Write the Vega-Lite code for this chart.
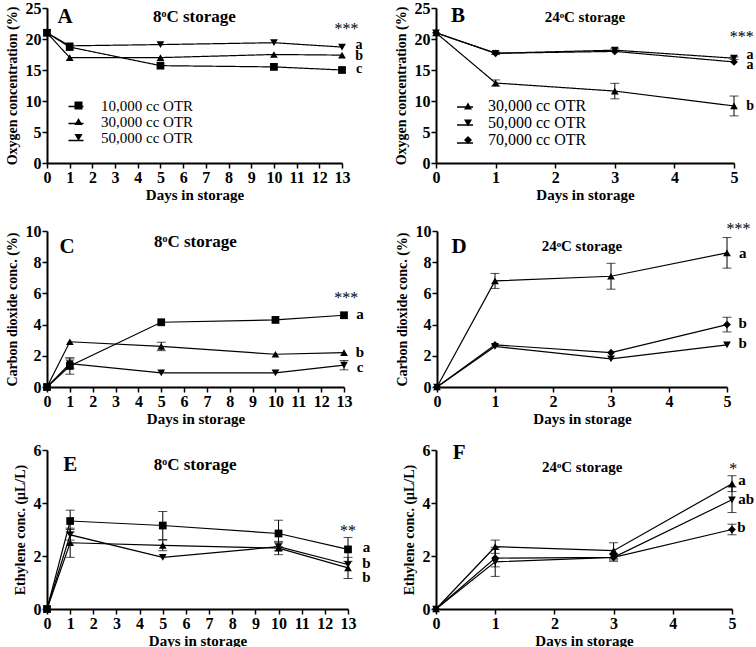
{
  "$schema": "https://vega.github.io/schema/vega-lite/v6.json",
  "padding": {"left": 4, "top": 0, "right": 0, "bottom": 0},
  "background": "white",
  "config": {
    "font": "Liberation Serif",
    "view": {"stroke": null},
    "axis": {"grid": false, "domainColor": "black", "domainWidth": 2, "tickColor": "black", "tickWidth": 1.5, "tickSize": 5, "labelColor": "black", "labelFontSize": 16, "labelFontWeight": "bold", "labelFont": "Liberation Serif", "titleColor": "black", "titleFontSize": 15, "titleFontWeight": "bold", "titleFont": "Liberation Serif", "labelPadding": 1, "labelFlush": false, "labelAngle": 0},
    "axisX": {"titlePadding": 2},
    "axisY": {"titleFontSize": 14, "titlePadding": 6},
    "text": {"font": "Liberation Serif", "fontWeight": "bold", "color": "black", "align": "center", "baseline": "middle"},
    "legend": {"orient": "none", "title": null, "labelFont": "Liberation Serif", "labelFontSize": 15, "labelFontWeight": "normal", "labelColor": "black", "symbolSize": 64, "symbolFillColor": "black", "symbolStrokeColor": "black", "symbolStrokeWidth": 1, "labelOffset": 15, "rowPadding": 0, "padding": 0}
  },
  "datasets": {
    "series": [
      {"panel": "A", "series": "10,000 cc OTR", "day": 0, "value": 21, "err": 0},
      {"panel": "A", "series": "10,000 cc OTR", "day": 1, "value": 18.7, "err": 0},
      {"panel": "A", "series": "10,000 cc OTR", "day": 5, "value": 15.7, "err": 0},
      {"panel": "A", "series": "10,000 cc OTR", "day": 10, "value": 15.5, "err": 0},
      {"panel": "A", "series": "10,000 cc OTR", "day": 13, "value": 15.0, "err": 0},
      {"panel": "A", "series": "30,000 cc OTR", "day": 0, "value": 21, "err": 0},
      {"panel": "A", "series": "30,000 cc OTR", "day": 1, "value": 17.0, "err": 0},
      {"panel": "A", "series": "30,000 cc OTR", "day": 5, "value": 17.0, "err": 0},
      {"panel": "A", "series": "30,000 cc OTR", "day": 10, "value": 17.5, "err": 0},
      {"panel": "A", "series": "30,000 cc OTR", "day": 13, "value": 17.4, "err": 0},
      {"panel": "A", "series": "50,000 cc OTR", "day": 0, "value": 21, "err": 0},
      {"panel": "A", "series": "50,000 cc OTR", "day": 1, "value": 18.9, "err": 0},
      {"panel": "A", "series": "50,000 cc OTR", "day": 5, "value": 19.1, "err": 0},
      {"panel": "A", "series": "50,000 cc OTR", "day": 10, "value": 19.4, "err": 0},
      {"panel": "A", "series": "50,000 cc OTR", "day": 13, "value": 18.7, "err": 0},

      {"panel": "B", "series": "30,000 cc OTR", "day": 0, "value": 21, "err": 0},
      {"panel": "B", "series": "30,000 cc OTR", "day": 1, "value": 12.9, "err": 0.5},
      {"panel": "B", "series": "30,000 cc OTR", "day": 3, "value": 11.6, "err": 1.25},
      {"panel": "B", "series": "30,000 cc OTR", "day": 5, "value": 9.2, "err": 1.6},
      {"panel": "B", "series": "50,000 cc OTR", "day": 0, "value": 21, "err": 0},
      {"panel": "B", "series": "50,000 cc OTR", "day": 1, "value": 17.7, "err": 0.2},
      {"panel": "B", "series": "50,000 cc OTR", "day": 3, "value": 18.2, "err": 0.2},
      {"panel": "B", "series": "50,000 cc OTR", "day": 5, "value": 16.9, "err": 0.2},
      {"panel": "B", "series": "70,000 cc OTR", "day": 0, "value": 21, "err": 0},
      {"panel": "B", "series": "70,000 cc OTR", "day": 1, "value": 17.7, "err": 0},
      {"panel": "B", "series": "70,000 cc OTR", "day": 3, "value": 18.0, "err": 0},
      {"panel": "B", "series": "70,000 cc OTR", "day": 5, "value": 16.3, "err": 0},

      {"panel": "C", "series": "10,000 cc OTR", "day": 0, "value": 0, "err": 0},
      {"panel": "C", "series": "10,000 cc OTR", "day": 1, "value": 1.35, "err": 0.53},
      {"panel": "C", "series": "10,000 cc OTR", "day": 5, "value": 4.15, "err": 0},
      {"panel": "C", "series": "10,000 cc OTR", "day": 10, "value": 4.3, "err": 0},
      {"panel": "C", "series": "10,000 cc OTR", "day": 13, "value": 4.6, "err": 0},
      {"panel": "C", "series": "30,000 cc OTR", "day": 0, "value": 0, "err": 0},
      {"panel": "C", "series": "30,000 cc OTR", "day": 1, "value": 2.9, "err": 0},
      {"panel": "C", "series": "30,000 cc OTR", "day": 5, "value": 2.6, "err": 0.27},
      {"panel": "C", "series": "30,000 cc OTR", "day": 10, "value": 2.1, "err": 0},
      {"panel": "C", "series": "30,000 cc OTR", "day": 13, "value": 2.2, "err": 0},
      {"panel": "C", "series": "50,000 cc OTR", "day": 0, "value": 0, "err": 0},
      {"panel": "C", "series": "50,000 cc OTR", "day": 1, "value": 1.5, "err": 0.3},
      {"panel": "C", "series": "50,000 cc OTR", "day": 5, "value": 0.9, "err": 0},
      {"panel": "C", "series": "50,000 cc OTR", "day": 10, "value": 0.9, "err": 0},
      {"panel": "C", "series": "50,000 cc OTR", "day": 13, "value": 1.4, "err": 0.3},

      {"panel": "D", "series": "30,000 cc OTR", "day": 0, "value": 0, "err": 0},
      {"panel": "D", "series": "30,000 cc OTR", "day": 1, "value": 6.8, "err": 0.48},
      {"panel": "D", "series": "30,000 cc OTR", "day": 3, "value": 7.1, "err": 0.83},
      {"panel": "D", "series": "30,000 cc OTR", "day": 5, "value": 8.6, "err": 0.98},
      {"panel": "D", "series": "50,000 cc OTR", "day": 0, "value": 0, "err": 0},
      {"panel": "D", "series": "50,000 cc OTR", "day": 1, "value": 2.6, "err": 0},
      {"panel": "D", "series": "50,000 cc OTR", "day": 3, "value": 1.8, "err": 0},
      {"panel": "D", "series": "50,000 cc OTR", "day": 5, "value": 2.7, "err": 0},
      {"panel": "D", "series": "70,000 cc OTR", "day": 0, "value": 0, "err": 0},
      {"panel": "D", "series": "70,000 cc OTR", "day": 1, "value": 2.7, "err": 0},
      {"panel": "D", "series": "70,000 cc OTR", "day": 3, "value": 2.2, "err": 0},
      {"panel": "D", "series": "70,000 cc OTR", "day": 5, "value": 4.0, "err": 0.47},

      {"panel": "E", "series": "10,000 cc OTR", "day": 0, "value": 0, "err": 0},
      {"panel": "E", "series": "10,000 cc OTR", "day": 1, "value": 3.32, "err": 0.41},
      {"panel": "E", "series": "10,000 cc OTR", "day": 5, "value": 3.15, "err": 0.53},
      {"panel": "E", "series": "10,000 cc OTR", "day": 10, "value": 2.85, "err": 0.5},
      {"panel": "E", "series": "10,000 cc OTR", "day": 13, "value": 2.25, "err": 0.45},
      {"panel": "E", "series": "30,000 cc OTR", "day": 0, "value": 0, "err": 0},
      {"panel": "E", "series": "30,000 cc OTR", "day": 1, "value": 2.5, "err": 0.55},
      {"panel": "E", "series": "30,000 cc OTR", "day": 5, "value": 2.4, "err": 0.2},
      {"panel": "E", "series": "30,000 cc OTR", "day": 10, "value": 2.3, "err": 0.25},
      {"panel": "E", "series": "30,000 cc OTR", "day": 13, "value": 1.55, "err": 0.4},
      {"panel": "E", "series": "50,000 cc OTR", "day": 0, "value": 0, "err": 0},
      {"panel": "E", "series": "50,000 cc OTR", "day": 1, "value": 2.8, "err": 0.2},
      {"panel": "E", "series": "50,000 cc OTR", "day": 5, "value": 1.95, "err": 0},
      {"panel": "E", "series": "50,000 cc OTR", "day": 10, "value": 2.35, "err": 0.15},
      {"panel": "E", "series": "50,000 cc OTR", "day": 13, "value": 1.68, "err": 0},

      {"panel": "F", "series": "30,000 cc OTR", "day": 0, "value": 0, "err": 0},
      {"panel": "F", "series": "30,000 cc OTR", "day": 1, "value": 2.35, "err": 0.25},
      {"panel": "F", "series": "30,000 cc OTR", "day": 3, "value": 2.2, "err": 0.3},
      {"panel": "F", "series": "30,000 cc OTR", "day": 5, "value": 4.73, "err": 0.3},
      {"panel": "F", "series": "50,000 cc OTR", "day": 0, "value": 0, "err": 0},
      {"panel": "F", "series": "50,000 cc OTR", "day": 1, "value": 1.78, "err": 0.55},
      {"panel": "F", "series": "50,000 cc OTR", "day": 3, "value": 1.95, "err": 0.15},
      {"panel": "F", "series": "50,000 cc OTR", "day": 5, "value": 4.12, "err": 0.48},
      {"panel": "F", "series": "70,000 cc OTR", "day": 0, "value": 0, "err": 0},
      {"panel": "F", "series": "70,000 cc OTR", "day": 1, "value": 1.92, "err": 0.33},
      {"panel": "F", "series": "70,000 cc OTR", "day": 3, "value": 1.95, "err": 0.1},
      {"panel": "F", "series": "70,000 cc OTR", "day": 5, "value": 3.0, "err": 0.2}
    ],
    "notes": [
      {"panel": "A", "kind": "tag", "text": "A", "day": 0.8, "value": 23.5},
      {"panel": "A", "kind": "title", "text": "8ᵒC storage", "day": 6.5, "value": 23.5},
      {"panel": "A", "kind": "star", "text": "***", "day": 13.2, "value": 21.6},
      {"panel": "A", "kind": "letter", "text": "a", "day": 13.75, "value": 19.0},
      {"panel": "A", "kind": "letter", "text": "b", "day": 13.75, "value": 17.2},
      {"panel": "A", "kind": "letter", "text": "c", "day": 13.75, "value": 15.2},
      {"panel": "B", "kind": "tag", "text": "B", "day": 0.37, "value": 23.7},
      {"panel": "B", "kind": "title", "text": "24ᵒC storage", "day": 2.5, "value": 23.6},
      {"panel": "B", "kind": "star", "text": "***", "day": 5.13, "value": 20.3},
      {"panel": "B", "kind": "letter", "text": "a", "day": 5.27, "value": 17.5},
      {"panel": "B", "kind": "letter", "text": "a", "day": 5.27, "value": 15.8},
      {"panel": "B", "kind": "letter", "text": "b", "day": 5.27, "value": 9.2},
      {"panel": "C", "kind": "tag", "text": "C", "day": 0.88, "value": 9.0},
      {"panel": "C", "kind": "title", "text": "8ᵒC storage", "day": 6.5, "value": 9.3},
      {"panel": "C", "kind": "star", "text": "***", "day": 13.1, "value": 5.7},
      {"panel": "C", "kind": "letter", "text": "a", "day": 13.7, "value": 4.7},
      {"panel": "C", "kind": "letter", "text": "b", "day": 13.7, "value": 2.25},
      {"panel": "C", "kind": "letter", "text": "c", "day": 13.7, "value": 1.3},
      {"panel": "D", "kind": "tag", "text": "D", "day": 0.38, "value": 9.0},
      {"panel": "D", "kind": "title", "text": "24ᵒC storage", "day": 2.5, "value": 9.05},
      {"panel": "D", "kind": "star", "text": "***", "day": 5.2, "value": 10.1},
      {"panel": "D", "kind": "letter", "text": "a", "day": 5.27, "value": 8.6},
      {"panel": "D", "kind": "letter", "text": "b", "day": 5.27, "value": 4.1},
      {"panel": "D", "kind": "letter", "text": "b", "day": 5.27, "value": 2.85},
      {"panel": "E", "kind": "tag", "text": "E", "day": 1.0, "value": 5.45},
      {"panel": "E", "kind": "title", "text": "8ᵒC storage", "day": 6.4, "value": 5.45},
      {"panel": "E", "kind": "star", "text": "**", "day": 13.0, "value": 2.95},
      {"panel": "E", "kind": "letter", "text": "a", "day": 13.8, "value": 2.35},
      {"panel": "E", "kind": "letter", "text": "b", "day": 13.8, "value": 1.75},
      {"panel": "E", "kind": "letter", "text": "b", "day": 13.8, "value": 1.2},
      {"panel": "F", "kind": "tag", "text": "F", "day": 0.39, "value": 5.9},
      {"panel": "F", "kind": "title", "text": "24ᵒC storage", "day": 2.47, "value": 5.35},
      {"panel": "F", "kind": "star", "text": "*", "day": 5.02, "value": 5.28},
      {"panel": "F", "kind": "letter", "text": "a", "day": 5.17, "value": 4.85},
      {"panel": "F", "kind": "letter", "text": "ab", "day": 5.24, "value": 4.15},
      {"panel": "F", "kind": "letter", "text": "b", "day": 5.16, "value": 3.1}
    ]
  },
  "spacing": 19,
  "resolve": {"scale": {"shape": "independent", "strokeDash": "independent", "x": "independent", "y": "independent"}, "legend": {"shape": "independent", "strokeDash": "independent"}},
  "vconcat": [
    {
      "hconcat": [
        {
          "width": 295, "height": 155,
          "encoding": {
            "x": {"field": "day", "type": "quantitative", "scale": {"domain": [0, 13], "nice": false, "zero": false}, "axis": {"values": [0,1,2,3,4,5,6,7,8,9,10,11,12,13], "title": "Days in storage"}},
            "y": {"field": "value", "type": "quantitative", "scale": {"domain": [0, 25], "nice": false}, "axis": {"values": [0,5,10,15,20,25], "title": "Oxygen concentration (%)"}}
          },
          "layer": [
            {"data": {"name": "series"}, "transform": [{"filter": "datum.panel == 'A'"}], "mark": {"type": "line", "color": "black", "strokeWidth": 1.2},
             "encoding": {"detail": {"field": "series"},
               "strokeDash": {"field": "series", "type": "nominal", "scale": {"domain": ["50,000 cc OTR", "30,000 cc OTR", "10,000 cc OTR"], "range": [[1, 0], [1, 0], [1, 0]]},
                 "legend": {"legendX": 20.5, "legendY": 90, "symbolType": "stroke", "symbolSize": 225, "symbolStrokeWidth": 1.3, "symbolStrokeColor": "black", "labelExpr": "''", "labelOpacity": 0, "labelFontSize": 15, "rowPadding": 0}}}},
            {"data": {"name": "series"}, "transform": [{"filter": "datum.panel == 'A'"}], "mark": {"type": "point", "filled": true, "color": "black", "opacity": 1, "size": 60},
             "encoding": {"shape": {"field": "series", "type": "nominal", "scale": {"domain": ["10,000 cc OTR", "30,000 cc OTR", "50,000 cc OTR"], "range": ["square", "triangle-up", "triangle-down"]},
               "legend": {"legendX": 24, "legendY": 90}}}},
            {"data": {"name": "notes"}, "transform": [{"filter": "datum.panel == 'A' && datum.kind == 'tag'"}], "mark": {"type": "text", "fontSize": 21, "color": "black"}, "encoding": {"text": {"field": "text"}}},
            {"data": {"name": "notes"}, "transform": [{"filter": "datum.panel == 'A' && datum.kind == 'title'"}], "mark": {"type": "text", "fontSize": 17, "color": "black"}, "encoding": {"text": {"field": "text"}}},
            {"data": {"name": "notes"}, "transform": [{"filter": "datum.panel == 'A' && datum.kind == 'star'"}], "mark": {"type": "text", "fontSize": 16, "fontWeight": "normal", "color": "black"}, "encoding": {"text": {"field": "text"}}},
            {"data": {"name": "notes"}, "transform": [{"filter": "datum.panel == 'A' && datum.kind == 'letter'"}], "mark": {"type": "text", "fontSize": 14, "color": "black"}, "encoding": {"text": {"field": "text"}}}
          ]
        },
        {
          "width": 298, "height": 155,
          "encoding": {
            "x": {"field": "day", "type": "quantitative", "scale": {"domain": [0, 5], "nice": false, "zero": false}, "axis": {"values": [0,1,2,3,4,5], "title": "Days in storage"}},
            "y": {"field": "value", "type": "quantitative", "scale": {"domain": [0, 25], "nice": false}, "axis": {"values": [0,5,10,15,20,25], "title": "Oxygen concentration (%)"}}
          },
          "layer": [
            {"data": {"name": "series"}, "transform": [{"filter": "datum.panel == 'B'"}], "mark": {"type": "line", "color": "black", "strokeWidth": 1.2},
             "encoding": {"detail": {"field": "series"},
               "strokeDash": {"field": "series", "type": "nominal", "scale": {"domain": ["70,000 cc OTR", "50,000 cc OTR", "30,000 cc OTR"], "range": [[1, 0], [1, 0], [1, 0]]},
                 "legend": {"legendX": 20, "legendY": 90, "symbolType": "stroke", "symbolSize": 256, "symbolStrokeWidth": 1.3, "symbolStrokeColor": "black", "labelExpr": "''", "labelOpacity": 0, "labelFontSize": 16, "rowPadding": 1}}}},
            {"data": {"name": "series"}, "transform": [{"filter": "datum.panel == 'B' && datum.err > 0"}], "mark": {"type": "errorbar", "ticks": {"size": 9}, "color": "black"}, "encoding": {"yError": {"field": "err"}}},
            {"data": {"name": "series"}, "transform": [{"filter": "datum.panel == 'B'"}], "mark": {"type": "point", "filled": true, "color": "black", "opacity": 1, "size": 60},
             "encoding": {"shape": {"field": "series", "type": "nominal", "scale": {"domain": ["30,000 cc OTR", "50,000 cc OTR", "70,000 cc OTR"], "range": ["triangle-up", "triangle-down", "diamond"]},
               "legend": {"legendX": 24, "legendY": 90, "rowPadding": 1, "labelFontSize": 16, "labelOffset": 12}}}},
            {"data": {"name": "notes"}, "transform": [{"filter": "datum.panel == 'B' && datum.kind == 'tag'"}], "mark": {"type": "text", "fontSize": 21, "color": "black"}, "encoding": {"text": {"field": "text"}}},
            {"data": {"name": "notes"}, "transform": [{"filter": "datum.panel == 'B' && datum.kind == 'title'"}], "mark": {"type": "text", "fontSize": 15, "color": "black"}, "encoding": {"text": {"field": "text"}}},
            {"data": {"name": "notes"}, "transform": [{"filter": "datum.panel == 'B' && datum.kind == 'star'"}], "mark": {"type": "text", "fontSize": 16, "fontWeight": "normal", "color": "black"}, "encoding": {"text": {"field": "text"}}},
            {"data": {"name": "notes"}, "transform": [{"filter": "datum.panel == 'B' && datum.kind == 'letter'"}], "mark": {"type": "text", "fontSize": 14, "color": "black"}, "encoding": {"text": {"field": "text"}}}
          ]
        }
      ],
      "spacing": 30,
      "resolve": {"scale": {"shape": "independent", "strokeDash": "independent", "x": "independent", "y": "independent"}, "legend": {"shape": "independent", "strokeDash": "independent"}}
    },
    {
      "vconcat": [
        {
          "hconcat": [
            {
              "width": 297, "height": 156,
              "encoding": {
                "x": {"field": "day", "type": "quantitative", "scale": {"domain": [0, 13], "nice": false, "zero": false}, "axis": {"values": [0,1,2,3,4,5,6,7,8,9,10,11,12,13], "title": "Days in storage"}},
                "y": {"field": "value", "type": "quantitative", "scale": {"domain": [0, 10], "nice": false}, "axis": {"values": [0,2,4,6,8,10], "title": "Carbon dioxide conc. (%)"}}
              },
              "layer": [
                {"data": {"name": "series"}, "transform": [{"filter": "datum.panel == 'C'"}], "mark": {"type": "line", "color": "black", "strokeWidth": 1.2}, "encoding": {"detail": {"field": "series"}}},
                {"data": {"name": "series"}, "transform": [{"filter": "datum.panel == 'C' && datum.err > 0"}], "mark": {"type": "errorbar", "ticks": {"size": 9}, "color": "black"}, "encoding": {"yError": {"field": "err"}}},
                {"data": {"name": "series"}, "transform": [{"filter": "datum.panel == 'C'"}], "mark": {"type": "point", "filled": true, "color": "black", "opacity": 1, "size": 60},
                 "encoding": {"shape": {"field": "series", "type": "nominal", "scale": {"domain": ["10,000 cc OTR", "30,000 cc OTR", "50,000 cc OTR"], "range": ["square", "triangle-up", "triangle-down"]}, "legend": null}}},
                {"data": {"name": "notes"}, "transform": [{"filter": "datum.panel == 'C' && datum.kind == 'tag'"}], "mark": {"type": "text", "fontSize": 21, "color": "black"}, "encoding": {"text": {"field": "text"}}},
                {"data": {"name": "notes"}, "transform": [{"filter": "datum.panel == 'C' && datum.kind == 'title'"}], "mark": {"type": "text", "fontSize": 17, "color": "black"}, "encoding": {"text": {"field": "text"}}},
                {"data": {"name": "notes"}, "transform": [{"filter": "datum.panel == 'C' && datum.kind == 'star'"}], "mark": {"type": "text", "fontSize": 16, "fontWeight": "normal", "color": "black"}, "encoding": {"text": {"field": "text"}}},
                {"data": {"name": "notes"}, "transform": [{"filter": "datum.panel == 'C' && datum.kind == 'letter'"}], "mark": {"type": "text", "fontSize": 15, "color": "black"}, "encoding": {"text": {"field": "text"}}}
              ]
            },
            {
              "width": 290, "height": 156,
              "encoding": {
                "x": {"field": "day", "type": "quantitative", "scale": {"domain": [0, 5], "nice": false, "zero": false}, "axis": {"values": [0,1,2,3,4,5], "title": "Days in storage"}},
                "y": {"field": "value", "type": "quantitative", "scale": {"domain": [0, 10], "nice": false}, "axis": {"values": [0,2,4,6,8,10], "title": "Carbon dioxide conc. (%)"}}
              },
              "layer": [
                {"data": {"name": "series"}, "transform": [{"filter": "datum.panel == 'D'"}], "mark": {"type": "line", "color": "black", "strokeWidth": 1.2}, "encoding": {"detail": {"field": "series"}}},
                {"data": {"name": "series"}, "transform": [{"filter": "datum.panel == 'D' && datum.err > 0"}], "mark": {"type": "errorbar", "ticks": {"size": 9}, "color": "black"}, "encoding": {"yError": {"field": "err"}}},
                {"data": {"name": "series"}, "transform": [{"filter": "datum.panel == 'D'"}], "mark": {"type": "point", "filled": true, "color": "black", "opacity": 1, "size": 60},
                 "encoding": {"shape": {"field": "series", "type": "nominal", "scale": {"domain": ["30,000 cc OTR", "50,000 cc OTR", "70,000 cc OTR"], "range": ["triangle-up", "triangle-down", "diamond"]}, "legend": null}}},
                {"data": {"name": "notes"}, "transform": [{"filter": "datum.panel == 'D' && datum.kind == 'tag'"}], "mark": {"type": "text", "fontSize": 21, "color": "black"}, "encoding": {"text": {"field": "text"}}},
                {"data": {"name": "notes"}, "transform": [{"filter": "datum.panel == 'D' && datum.kind == 'title'"}], "mark": {"type": "text", "fontSize": 15, "color": "black"}, "encoding": {"text": {"field": "text"}}},
                {"data": {"name": "notes"}, "transform": [{"filter": "datum.panel == 'D' && datum.kind == 'star'"}], "mark": {"type": "text", "fontSize": 16, "fontWeight": "normal", "color": "black"}, "encoding": {"text": {"field": "text"}}},
                {"data": {"name": "notes"}, "transform": [{"filter": "datum.panel == 'D' && datum.kind == 'letter'"}], "mark": {"type": "text", "fontSize": 15, "color": "black"}, "encoding": {"text": {"field": "text"}}}
              ]
            }
          ],
          "spacing": 29,
          "resolve": {"scale": {"shape": "independent", "x": "independent", "y": "independent"}, "legend": {"shape": "independent"}}
        },
        {
          "hconcat": [
            {
              "width": 301, "height": 159,
              "encoding": {
                "x": {"field": "day", "type": "quantitative", "scale": {"domain": [0, 13], "nice": false, "zero": false}, "axis": {"values": [0,1,2,3,4,5,6,7,8,9,10,11,12,13], "title": "Days in storage"}},
                "y": {"field": "value", "type": "quantitative", "scale": {"domain": [0, 6], "nice": false}, "axis": {"values": [0,2,4,6], "title": "Ethylene conc. (μL/L)"}}
              },
              "layer": [
                {"data": {"name": "series"}, "transform": [{"filter": "datum.panel == 'E'"}], "mark": {"type": "line", "color": "black", "strokeWidth": 1.2}, "encoding": {"detail": {"field": "series"}}},
                {"data": {"name": "series"}, "transform": [{"filter": "datum.panel == 'E' && datum.err > 0"}], "mark": {"type": "errorbar", "ticks": {"size": 9}, "color": "black"}, "encoding": {"yError": {"field": "err"}}},
                {"data": {"name": "series"}, "transform": [{"filter": "datum.panel == 'E'"}], "mark": {"type": "point", "filled": true, "color": "black", "opacity": 1, "size": 60},
                 "encoding": {"shape": {"field": "series", "type": "nominal", "scale": {"domain": ["10,000 cc OTR", "30,000 cc OTR", "50,000 cc OTR"], "range": ["square", "triangle-up", "triangle-down"]}, "legend": null}}},
                {"data": {"name": "notes"}, "transform": [{"filter": "datum.panel == 'E' && datum.kind == 'tag'"}], "mark": {"type": "text", "fontSize": 21, "color": "black"}, "encoding": {"text": {"field": "text"}}},
                {"data": {"name": "notes"}, "transform": [{"filter": "datum.panel == 'E' && datum.kind == 'title'"}], "mark": {"type": "text", "fontSize": 17, "color": "black"}, "encoding": {"text": {"field": "text"}}},
                {"data": {"name": "notes"}, "transform": [{"filter": "datum.panel == 'E' && datum.kind == 'star'"}], "mark": {"type": "text", "fontSize": 16, "fontWeight": "normal", "color": "black"}, "encoding": {"text": {"field": "text"}}},
                {"data": {"name": "notes"}, "transform": [{"filter": "datum.panel == 'E' && datum.kind == 'letter'"}], "mark": {"type": "text", "fontSize": 15, "color": "black"}, "encoding": {"text": {"field": "text"}}}
              ]
            },
            {
              "width": 296, "height": 159,
              "encoding": {
                "x": {"field": "day", "type": "quantitative", "scale": {"domain": [0, 5], "nice": false, "zero": false}, "axis": {"values": [0,1,2,3,4,5], "title": "Days in storage"}},
                "y": {"field": "value", "type": "quantitative", "scale": {"domain": [0, 6], "nice": false}, "axis": {"values": [0,2,4,6], "title": "Ethylene conc. (μL/L)"}}
              },
              "layer": [
                {"data": {"name": "series"}, "transform": [{"filter": "datum.panel == 'F'"}], "mark": {"type": "line", "color": "black", "strokeWidth": 1.2}, "encoding": {"detail": {"field": "series"}}},
                {"data": {"name": "series"}, "transform": [{"filter": "datum.panel == 'F' && datum.err > 0"}], "mark": {"type": "errorbar", "ticks": {"size": 9}, "color": "black"}, "encoding": {"yError": {"field": "err"}}},
                {"data": {"name": "series"}, "transform": [{"filter": "datum.panel == 'F'"}], "mark": {"type": "point", "filled": true, "color": "black", "opacity": 1, "size": 60},
                 "encoding": {"shape": {"field": "series", "type": "nominal", "scale": {"domain": ["30,000 cc OTR", "50,000 cc OTR", "70,000 cc OTR"], "range": ["triangle-up", "triangle-down", "diamond"]}, "legend": null}}},
                {"data": {"name": "notes"}, "transform": [{"filter": "datum.panel == 'F' && datum.kind == 'tag'"}], "mark": {"type": "text", "fontSize": 21, "color": "black"}, "encoding": {"text": {"field": "text"}}},
                {"data": {"name": "notes"}, "transform": [{"filter": "datum.panel == 'F' && datum.kind == 'title'"}], "mark": {"type": "text", "fontSize": 15, "color": "black"}, "encoding": {"text": {"field": "text"}}},
                {"data": {"name": "notes"}, "transform": [{"filter": "datum.panel == 'F' && datum.kind == 'star'"}], "mark": {"type": "text", "fontSize": 16, "fontWeight": "normal", "color": "black"}, "encoding": {"text": {"field": "text"}}},
                {"data": {"name": "notes"}, "transform": [{"filter": "datum.panel == 'F' && datum.kind == 'letter'"}], "mark": {"type": "text", "fontSize": 15, "color": "black"}, "encoding": {"text": {"field": "text"}}}
              ]
            }
          ],
          "spacing": 31,
          "resolve": {"scale": {"shape": "independent", "x": "independent", "y": "independent"}, "legend": {"shape": "independent"}}
        }
      ],
      "spacing": 15,
      "resolve": {"scale": {"shape": "independent", "x": "independent", "y": "independent"}, "legend": {"shape": "independent"}}
    }
  ]
}
